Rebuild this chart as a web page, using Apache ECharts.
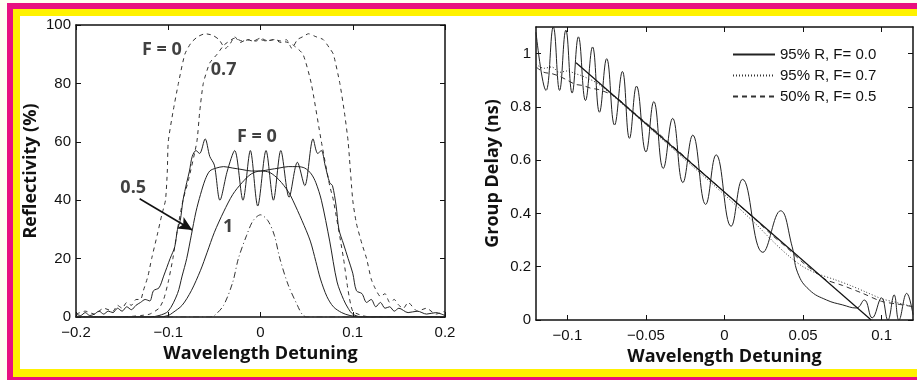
<!DOCTYPE html>
<html>
<head>
<meta charset="utf-8">
<script src="https://cdn.jsdelivr.net/npm/echarts@6/dist/echarts.min.js"></script>
<style>
html, body { margin: 0; padding: 0; background: #ffffff; }
#chart { width: 917px; height: 380px; }
</style>
</head>
<body>
<div id="chart"></div>
<script>
/* ---- left panel: reflectivity (%) vs detuning ---- */
const reflDashF0 = [[-0.2,1],[-0.19,2],[-0.18,1],[-0.17,3],[-0.16,2],[-0.155,4],[-0.15,3],[-0.145,5],[-0.14,4],[-0.135,6],[-0.13,6],[-0.127,9],[-0.122,14],[-0.118,20],[-0.112,28],[-0.107,35],[-0.103,40],[-0.101,50],[-0.1,60],[-0.095,70],[-0.089,80],[-0.082,90],[-0.075,94],[-0.068,96],[-0.06,97],[-0.052,96.5],[-0.045,95],[-0.038,92],[-0.033,93.5],[-0.028,96],[-0.022,94],[-0.015,95],[-0.008,94.5],[0,95.5],[0.008,94.5],[0.015,95],[0.022,94],[0.028,95],[0.034,92],[0.04,95],[0.046,96],[0.052,97],[0.06,96],[0.068,95],[0.075,92],[0.079,90],[0.086,80],[0.091,70],[0.095,60],[0.1,40],[0.104,32],[0.11,25],[0.115,20],[0.12,13],[0.124,10],[0.13,7],[0.135,8],[0.14,5],[0.145,6],[0.15,4],[0.155,3],[0.16,5],[0.17,2],[0.18,3],[0.19,1],[0.2,2]];
const reflDashF07 = [[-0.2,0],[-0.15,0],[-0.13,0.5],[-0.12,1],[-0.11,3],[-0.105,6],[-0.1,12],[-0.095,20],[-0.09,30],[-0.084,40],[-0.078,47],[-0.069,60],[-0.066,70],[-0.062,80],[-0.055,87],[-0.047,90],[-0.04,93],[-0.036,94],[-0.028,95.5],[-0.02,94.5],[-0.012,95],[-0.005,94.5],[0,95],[0.006,94.5],[0.014,95],[0.022,94.5],[0.03,94],[0.036,93],[0.046,90],[0.055,80],[0.066,60],[0.075,45],[0.079,40],[0.09,20],[0.095,9],[0.1,2],[0.11,0.5],[0.12,0],[0.2,0]];
const reflRipple = [[-0.2,1],[-0.195,0.5],[-0.19,1.5],[-0.185,0.5],[-0.18,1],[-0.175,2],[-0.17,1],[-0.165,2],[-0.16,1.5],[-0.155,3],[-0.15,2],[-0.145,3.5],[-0.14,2.5],[-0.135,4],[-0.13,5],[-0.125,6],[-0.12,5.5],[-0.116,9],[-0.11,10],[-0.105,14],[-0.098,20],[-0.093,24],[-0.09,30],[-0.087,33],[-0.084,40],[-0.08,46],[-0.077,50],[-0.074,55],[-0.07,57],[-0.066,56],[-0.06,61],[-0.055,55],[-0.05,52],[-0.044,40],[-0.036,50],[-0.028,57],[-0.019,40],[-0.011,57],[-0.003,38],[0.006,57],[0.014,40],[0.022,57],[0.031,41],[0.04,53],[0.048,45],[0.057,61],[0.062,56],[0.066,57],[0.07,52],[0.075,46],[0.078,45],[0.082,38],[0.085,30],[0.09,25],[0.095,20],[0.1,15],[0.104,9],[0.11,8],[0.115,5],[0.12,6],[0.125,3.5],[0.13,5],[0.135,3],[0.14,3.5],[0.145,2],[0.15,3],[0.16,1.5],[0.17,2],[0.18,1],[0.19,1.5],[0.2,0.5]];
const reflFlat = [[-0.2,0],[-0.12,0],[-0.11,0.5],[-0.1,2],[-0.09,8],[-0.085,14],[-0.08,20],[-0.075,28],[-0.07,36],[-0.065,42],[-0.06,47],[-0.055,50],[-0.048,51],[-0.04,51.5],[-0.03,51],[-0.02,50.5],[-0.01,50],[0,50],[0.01,50.5],[0.02,51],[0.03,51.5],[0.04,51.5],[0.048,51],[0.055,49],[0.06,46],[0.066,40],[0.075,26],[0.083,12],[0.09,6],[0.095,3],[0.1,1],[0.11,0],[0.2,0]];
const reflF1 = [[-0.2,0],[-0.11,0],[-0.1,0.5],[-0.095,1.5],[-0.085,4],[-0.075,9],[-0.065,16],[-0.058,22],[-0.05,29],[-0.04,36],[-0.03,42],[-0.02,46],[-0.01,49],[0,50],[0.01,49.5],[0.02,47],[0.03,43],[0.035,40],[0.045,33],[0.054,26],[0.06,19],[0.065,13],[0.072,7],[0.079,3.5],[0.088,1.5],[0.097,0.5],[0.11,0],[0.2,0]];
const reflDashDot = [[-0.2,0],[-0.055,0],[-0.05,0.5],[-0.04,4],[-0.03,12],[-0.024,20],[-0.015,28],[-0.008,33],[0,35],[0.008,33],[0.015,28],[0.021,20],[0.03,11],[0.04,4],[0.045,1],[0.05,0],[0.2,0]];
const leftNotes = [[-0.107,91.4,'F = 0'],[-0.04,84.6,'0.7'],[-0.004,61.6,'F = 0'],[-0.138,44.2,'0.5'],[-0.035,30.8,'1']];
const leftArrow = [[-0.131,40.5],[-0.074,29.8]];
const leftXTicks = [-0.2,-0.1,0,0.1,0.2];
const leftYTicks = [0,20,40,60,80,100];

/* ---- right panel: group delay (ns) vs detuning ---- */
const legendNames = ['95% R, F= 0.0','95% R, F= 0.7','50% R, F= 0.5'];
const gdF00 = [[-0.12,1.08],[-0.1136,0.862],[-0.109,1.1],[-0.105,0.862],[-0.101,1.088],[-0.097,0.852],[-0.093,1.063],[-0.0885,0.824],[-0.084,1.025],[-0.0796,0.78],[-0.075,0.981],[-0.07,0.732],[-0.065,0.933],[-0.0605,0.682],[-0.056,0.878],[-0.05,0.631],[-0.045,0.82],[-0.039,0.569],[-0.033,0.757],[-0.0265,0.516],[-0.0202,0.694],[-0.012,0.434],[-0.0053,0.62],[0.0042,0.352],[0.0115,0.528],[0.0244,0.254],[0.0357,0.41],[0.043,0.277],[0.0466,0.177],[0.054,0.113],[0.065,0.075],[0.075,0.057],[0.084,0.045],[0.089,0.075],[0.094,0.008],[0.1,0.083],[0.104,0],[0.108,0.094],[0.111,0],[0.116,0.1],[0.12,0.02]];
const gdF07 = [[-0.12,0.96],[-0.115,0.945],[-0.11,0.95],[-0.105,0.93],[-0.1,0.935],[-0.095,0.925],[-0.09,0.915],[-0.08,0.885],[-0.06,0.785],[-0.04,0.68],[-0.02,0.575],[0,0.47],[0.02,0.36],[0.03,0.3],[0.04,0.245],[0.05,0.2],[0.06,0.172],[0.07,0.152],[0.08,0.13],[0.09,0.105],[0.1,0.08],[0.11,0.065],[0.12,0.05]];
const gd50F05 = [[-0.12,0.95],[-0.115,0.93],[-0.11,0.925],[-0.105,0.915],[-0.1,0.9],[-0.095,0.885],[-0.09,0.88],[-0.085,0.87],[-0.08,0.865],[-0.07,0.84],[-0.06,0.79],[-0.04,0.69],[-0.02,0.585],[0,0.48],[0.02,0.375],[0.03,0.32],[0.04,0.27],[0.05,0.215],[0.06,0.17],[0.065,0.15],[0.075,0.13],[0.088,0.1],[0.1,0.07],[0.11,0.06],[0.12,0.05]];
const gdLinear = [[-0.0945,0.966],[0.0934,0]];
const rightXTicks = [-0.1,-0.05,0,0.05,0.1];
const rightYTicks = [0,0.2,0.4,0.6,0.8,1];

const ink = '#111';
const tickFont = { color: ink, fontSize: 15, fontFamily: 'Liberation Sans' };
const titleFont = { color: ink, fontSize: 18, fontWeight: 'bold', fontFamily: 'Open Sans' };
const fmt = v => (v < 0 ? '\u2212' + String(-v) : String(v));

function boxAxis(grid, pos, min, max, ticks, showLabel, name, nameGap) {
    return {
        gridIndex: grid, position: pos, type: 'value', min: min, max: max,
        name: name || '', nameLocation: 'middle', nameGap: nameGap || 0, nameTextStyle: titleFont,
        axisLine: { show: true, onZero: false, lineStyle: { color: ink, width: 1.5 } },
        axisTick: { show: true, inside: true, length: 5, customValues: ticks, lineStyle: { color: ink } },
        axisLabel: { show: showLabel, customValues: ticks, formatter: fmt, margin: pos === 'bottom' ? 8 : 5, ...tickFont },
        splitLine: { show: false }
    };
}

function line(name, data, x, y, type, width, color, smooth) {
    return {
        name: name, type: 'line', xAxisIndex: x, yAxisIndex: y, data: data,
        symbol: 'none', smooth: smooth, silent: true, animation: false,
        itemStyle: { color: color },
        lineStyle: { color: color, width: width, type: type }
    };
}

const chart = echarts.init(document.getElementById('chart'), null, { renderer: 'canvas' });
chart.setOption({
    animation: false,
    backgroundColor: '#fffef2',
    graphic: [
        { type: 'rect', shape: { x: 7, y: 3, width: 920, height: 380 }, style: { fill: '#e8117f' }, z: -10 },
        { type: 'rect', shape: { x: 13, y: 9, width: 910, height: 368 }, style: { fill: '#fff200' }, z: -9 },
        { type: 'rect', shape: { x: 20, y: 16, width: 900, height: 353 }, style: { fill: '#ffffff' }, z: -8 }
    ],
    grid: [
        { left: 76, right: 472, top: 25, bottom: 63 },
        { left: 536, right: 4, top: 27, bottom: 60 }
    ],
    legend: {
        data: legendNames, orient: 'vertical', left: 727, top: 42,
        itemWidth: 42, itemHeight: 14, itemGap: 6,
        itemStyle: { opacity: 0 },
        textStyle: { color: ink, fontSize: 15, fontFamily: 'Liberation Sans' }
    },
    xAxis: [
        boxAxis(0, 'bottom', -0.2, 0.2, leftXTicks, true, 'Wavelength Detuning', 28),
        boxAxis(0, 'top', -0.2, 0.2, leftXTicks, false),
        boxAxis(1, 'bottom', -0.12, 0.12, rightXTicks, true, 'Wavelength Detuning', 28),
        boxAxis(1, 'top', -0.12, 0.12, rightXTicks, false)
    ],
    yAxis: [
        boxAxis(0, 'left', 0, 100, leftYTicks, true, 'Reflectivity (%)', 36),
        boxAxis(0, 'right', 0, 100, leftYTicks, false),
        boxAxis(1, 'left', 0, 1.1, rightYTicks, true, 'Group Delay (ns)', 34),
        boxAxis(1, 'right', 0, 1.1, rightYTicks, false)
    ],
    series: [
        line('', reflDashF0, 0, 0, [4, 4], 1, '#333', 0.2),
        line('', reflDashF07, 0, 0, [4, 4], 1, '#333', 0.2),
        line('', reflRipple, 0, 0, 'solid', 1, '#222', 0.3),
        line('', reflFlat, 0, 0, 'solid', 1, '#222', 0.3),
        line('', reflF1, 0, 0, 'solid', 1, '#222', 0.3),
        line('', reflDashDot, 0, 0, [6, 3, 1, 3], 1, '#333', 0.3),
        {
            type: 'scatter', xAxisIndex: 0, yAxisIndex: 0, silent: true, symbolSize: 0,
            data: leftNotes,
            label: {
                show: true, position: 'inside', formatter: p => p.data[2],
                color: ink, fontSize: 18, fontWeight: 'bold', fontFamily: 'Open Sans'
            },
            markLine: {
                silent: true, symbol: ['none', 'arrow'], symbolSize: [10, 14],
                label: { show: false },
                lineStyle: { color: ink, width: 1.5, type: 'solid' },
                data: [[{ coord: leftArrow[0] }, { coord: leftArrow[1] }]]
            }
        },
        line(legendNames[0], gdF00, 2, 2, 'solid', 1, '#222', 0.45),
        line(legendNames[1], gdF07, 2, 2, [1, 2], 1, '#333', 0.3),
        line(legendNames[2], gd50F05, 2, 2, [5, 4], 1, '#333', 0.3),
        line('', gdLinear, 2, 2, 'solid', 1.2, '#111', false)
    ]
});
</script>
</body>
</html>
